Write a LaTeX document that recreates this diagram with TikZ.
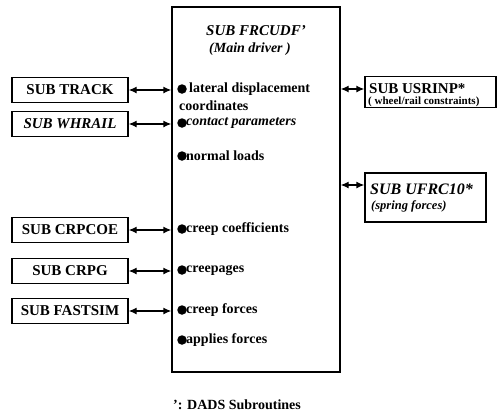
\documentclass[tikz,border=0pt]{standalone}
\usepackage{fontspec}
\setmainfont{Liberation Serif}
\usetikzlibrary{arrows.meta,positioning}

\begin{document}
\begin{tikzpicture}[x=1pt,y=-1pt,font=\bfseries\fontsize{15}{16}\selectfont,
                    sub/.style={draw,line width=1.3pt,minimum width=116pt,minimum height=25pt,inner sep=1pt},
                    item/.style={anchor=west,inner sep=0pt,font=\bfseries\fontsize{14}{15}\selectfont},
                    note/.style={anchor=west,inner sep=0pt},
                    dot/.style={circle,fill,inner sep=0pt,minimum size=9.5pt},
                    link/.style={line width=1.3pt,{Latex[length=8pt,width=7pt]}-{Latex[length=8pt,width=7pt]}}]
  \useasboundingbox (0,0) rectangle (498,416);

  % main driver box
  \node[draw,line width=1.3pt,minimum width=168pt,minimum height=365pt] (main) at (256,189.5) {};
  \node (title) at (256,31) {\itshape SUB FRCUDF'};
  \node[font=\bfseries\fontsize{14}{15}\selectfont] (sub) at (250,49) {\itshape (Main driver )};

  % bullet items
  \node[dot] (d1) at (182,89)  {};
  \node[dot] (d2) at (182,123) {};
  \node[dot] (d3) at (182,156) {};
  \node[dot] (d4) at (182,229) {};
  \node[dot] (d5) at (182,270) {};
  \node[dot] (d6) at (182,310) {};
  \node[dot] (d7) at (182,340) {};
  \node[item] (i1)  at (189,89)  {lateral displacement};
  \node[item] (i1b) at (179,106) {coordinates};
  \node[item] (i2)  at (186,123) {\itshape contact parameters};
  \node[item] (i3)  at (186,156) {normal loads};
  \node[item] (i4)  at (186,229) {creep coefficients};
  \node[item] (i5)  at (186,270) {creepages};
  \node[item] (i6)  at (186,310) {creep forces};
  \node[item] (i7)  at (186,340) {applies forces};

  % called subroutines
  \node[sub] (track)   at (70,90)  {SUB TRACK};
  \node[sub] (whrail)  at (70,124) {\itshape SUB WHRAIL};
  \node[sub] (crpcoe)  at (70,230) {SUB CRPCOE};
  \node[sub] (crpg)    at (70,271) {SUB CRPG};
  \node[sub] (fastsim) at (70,311) {SUB FASTSIM};

  % DADS subroutines
  \node[draw,line width=1.3pt,minimum width=131pt,minimum height=31pt] (usrinp) at (430.5,92) {};
  \node[note] (usrinpa) at (369,89)  {SUB USRINP*};
  \node[note,font=\bfseries\fontsize{11}{12}\selectfont] (usrinpb) at (368,102) {( wheel/rail constraints)};
  \node[draw,line width=1.3pt,minimum width=121pt,minimum height=49pt] (ufrc) at (425.5,197.5) {};
  \node[note,font=\bfseries\itshape\fontsize{16}{17}\selectfont] (ufrca) at (370,189) {SUB UFRC10*};
  \node[note,font=\bfseries\itshape\fontsize{12.5}{13}\selectfont] (ufrcb) at (371,206) {(spring forces)};

  \draw[link] (track.east)   -- (track.east -| main.west);
  \draw[link] (whrail.east)  -- (whrail.east -| main.west);
  \draw[link] (crpcoe.east)  -- (crpcoe.east -| main.west);
  \draw[link] (crpg.east)    -- (crpg.east -| main.west);
  \draw[link] (fastsim.east) -- (fastsim.east -| main.west);
  \draw[link] (main.east |- 0,89)  -- (usrinp.west |- 0,89);
  \draw[link] (main.east |- 0,185) -- (ufrc.west |- 0,185);

  \node[note,font=\bfseries\fontsize{14}{15}\selectfont] (key) at (173,405) {': DADS Subroutines};
\end{tikzpicture}
\end{document}
